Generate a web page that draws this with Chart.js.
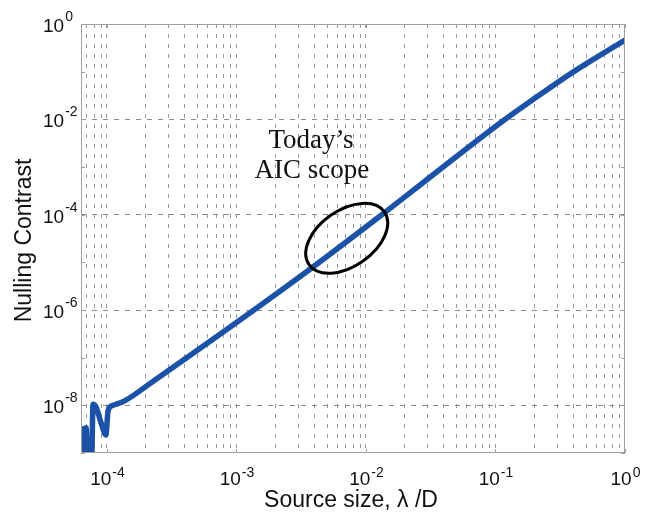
<!DOCTYPE html>
<html>
<head>
<meta charset="utf-8">
<script src="https://cdn.jsdelivr.net/npm/chart.js@4.4.1/dist/chart.umd.min.js"></script>
<style>
  html, body { margin: 0; padding: 0; background: #fff; }
  #wrap { width: 652px; height: 513px; }
</style>
</head>
<body>
<div id="wrap"><canvas id="nullChart"></canvas></div>
<script>
// values (log-log)
const sourceSize = [6.36e-5, 6.64e-5, 6.89e-5, 7.13e-5, 7.6e-5, 7.8e-5, 8.2e-5, 9.0e-5, 9.8e-5, 1.02e-4, 1.11e-4, 1.38e-4,
                    2.15e-4, 2.83e-3, 1.31e-2, 3.12e-2, 0.108, 0.202, 0.397, 1.0];
const nullingContrast = [3.26e-9, 1.02e-9, 3.4e-9, 6e-10, 6e-10, 1.05e-8, 9.4e-9, 4.3e-9, 2.4e-9, 7.8e-9, 1.0e-8, 1.26e-8,
                         2.87e-8, 4.19e-6, 9.7e-5, 6.1e-4, 8.3e-3, 2.79e-2, 9.8e-2, 0.46];
const xTickExponents = [-4, -3, -2, -1, 0];
const yTickExponents = [0, -2, -4, -6, -8];
const xRange = [6.3e-5, 1];
const yRange = [1e-9, 1];
const noteLines = ['Today\u2019s', 'AIC scope'];
const xTitle = 'Source size, \u03bb /D';
const yTitle = 'Nulling Contrast';

const xGridValues = [];
for (let e = -5; e <= 0; e++) {
    for (let n = 1; n <= 9; n++) {
        const v = Number((n * Math.pow(10, e)).toPrecision(3));
        if (v >= xRange[0] && v <= xRange[1]) xGridValues.push(v);
    }
}
const yGridValues = [];
for (let e = -9; e <= 0; e++) yGridValues.push(Math.pow(10, e));

const sansFont = '"Liberation Sans", Arial, sans-serif';

function drawPower(ctx, exp, x, baseline, supRaise, centered) {
    ctx.font = '19px ' + sansFont;
    const wBase = ctx.measureText('10').width;
    ctx.font = '14px ' + sansFont;
    const sup = String(exp);
    const wSup = ctx.measureText(sup).width;
    const start = centered ? x - (wBase + wSup) / 2 : x;
    ctx.textAlign = 'left';
    ctx.textBaseline = 'alphabetic';
    ctx.font = '19px ' + sansFont;
    ctx.fillText('10', start, baseline);
    ctx.font = '14px ' + sansFont;
    ctx.fillText(sup, start + wBase + 1, baseline - supRaise);
}

const decorPlugin = {
    id: 'decor',
    afterDraw(chart) {
        const { ctx, chartArea: a, scales: { x, y } } = chart;
        ctx.save();

        // frame and inward ticks
        ctx.strokeStyle = '#a0a0a0';
        ctx.lineWidth = 1;
        ctx.setLineDash([]);
        ctx.strokeRect(a.left + 0.5, a.top + 0.5, a.right - a.left - 1, a.bottom - a.top - 1);
        ctx.beginPath();
        yGridValues.forEach(v => {
            const py = Math.round(y.getPixelForValue(v)) + 0.5;
            ctx.moveTo(a.left, py); ctx.lineTo(a.left + 4, py);
            ctx.moveTo(a.right - 4, py); ctx.lineTo(a.right, py);
        });
        xTickExponents.forEach(e => {
            const px = Math.round(x.getPixelForValue(Math.pow(10, e))) + 0.5;
            ctx.moveTo(px, a.bottom); ctx.lineTo(px, a.bottom - 4);
            ctx.moveTo(px, a.top); ctx.lineTo(px, a.top + 4);
        });
        ctx.stroke();

        // tick labels
        ctx.fillStyle = '#111';
        yTickExponents.forEach(e => {
            const py = y.getPixelForValue(Math.pow(10, e));
            drawPower(ctx, e, a.left - 38, py + 8, 11, false);
        });
        xTickExponents.forEach(e => {
            const px = x.getPixelForValue(Math.pow(10, e));
            drawPower(ctx, e, px, a.bottom + 32, 8, true);
        });

        // axis titles
        ctx.font = '23px ' + sansFont;
        ctx.textAlign = 'center';
        ctx.textBaseline = 'alphabetic';
        ctx.fillText(xTitle, (a.left + a.right) / 2 - 2, a.bottom + 54);
        ctx.save();
        ctx.translate(31, (a.top + a.bottom) / 2 + 2);
        ctx.rotate(-Math.PI / 2);
        ctx.fillText(yTitle, 0, 0);
        ctx.restore();

        // annotation
        const tx = x.getPixelForValue(3.76e-3);
        const ty = y.getPixelForValue(2.5e-3);
        ctx.font = '27px "Liberation Serif", "Times New Roman", serif';
        ctx.fillText(noteLines[0], tx, ty);
        ctx.fillText(noteLines[1], tx + 1, ty + 30);

        const ex = x.getPixelForValue(7.1e-3);
        const ey = y.getPixelForValue(3.2e-5);
        ctx.beginPath();
        ctx.ellipse(ex, ey, 46, 28, -35 * Math.PI / 180, 0, 2 * Math.PI);
        ctx.strokeStyle = '#000';
        ctx.lineWidth = 3;
        ctx.stroke();

        ctx.restore();
    }
};

const ctx = document.getElementById('nullChart').getContext('2d');
new Chart(ctx, {
    type: 'line',
    data: {
        datasets: [{
            label: yTitle,
            data: sourceSize.map((v, i) => ({ x: v, y: nullingContrast[i] })),
            borderColor: '#1b51a6',
            borderWidth: 5.5,
            pointRadius: 0,
            cubicInterpolationMode: 'monotone',
            borderJoinStyle: 'round',
            borderCapStyle: 'round',
            clip: 0
        }]
    },
    options: {
        responsive: true,
        maintainAspectRatio: false,
        animation: false,
        layout: { padding: { left: 81, right: 27, top: 24, bottom: 60 } },
        plugins: {
            legend: { display: false },
            tooltip: { enabled: false }
        },
        scales: {
            x: {
                type: 'logarithmic',
                min: xRange[0],
                max: xRange[1],
                afterBuildTicks: scale => { scale.ticks = xGridValues.map(v => ({ value: v })); },
                ticks: { display: false },
                border: { display: false, dash: [4, 6] },
                grid: {
                    drawTicks: false,
                    color: c => (c.tick && c.tick.value >= 0.999) ? 'rgba(0,0,0,0)' : '#8d9ca6',
                    lineWidth: 1
                },
                title: { display: false }
            },
            y: {
                type: 'logarithmic',
                min: yRange[0],
                max: yRange[1],
                afterBuildTicks: scale => { scale.ticks = yGridValues.map(v => ({ value: v })); },
                ticks: { display: false },
                border: { display: false, dash: [5, 6] },
                grid: {
                    drawTicks: false,
                    color: c => {
                        if (!c.tick) return 'rgba(0,0,0,0)';
                        const e = Math.round(Math.log10(c.tick.value));
                        return (e % 2 === 0 && e < 0 && e > -9) ? '#8a8a8a' : 'rgba(0,0,0,0)';
                    },
                    lineWidth: 1
                },
                title: { display: false }
            }
        }
    },
    plugins: [decorPlugin]
});
</script>
</body>
</html>
